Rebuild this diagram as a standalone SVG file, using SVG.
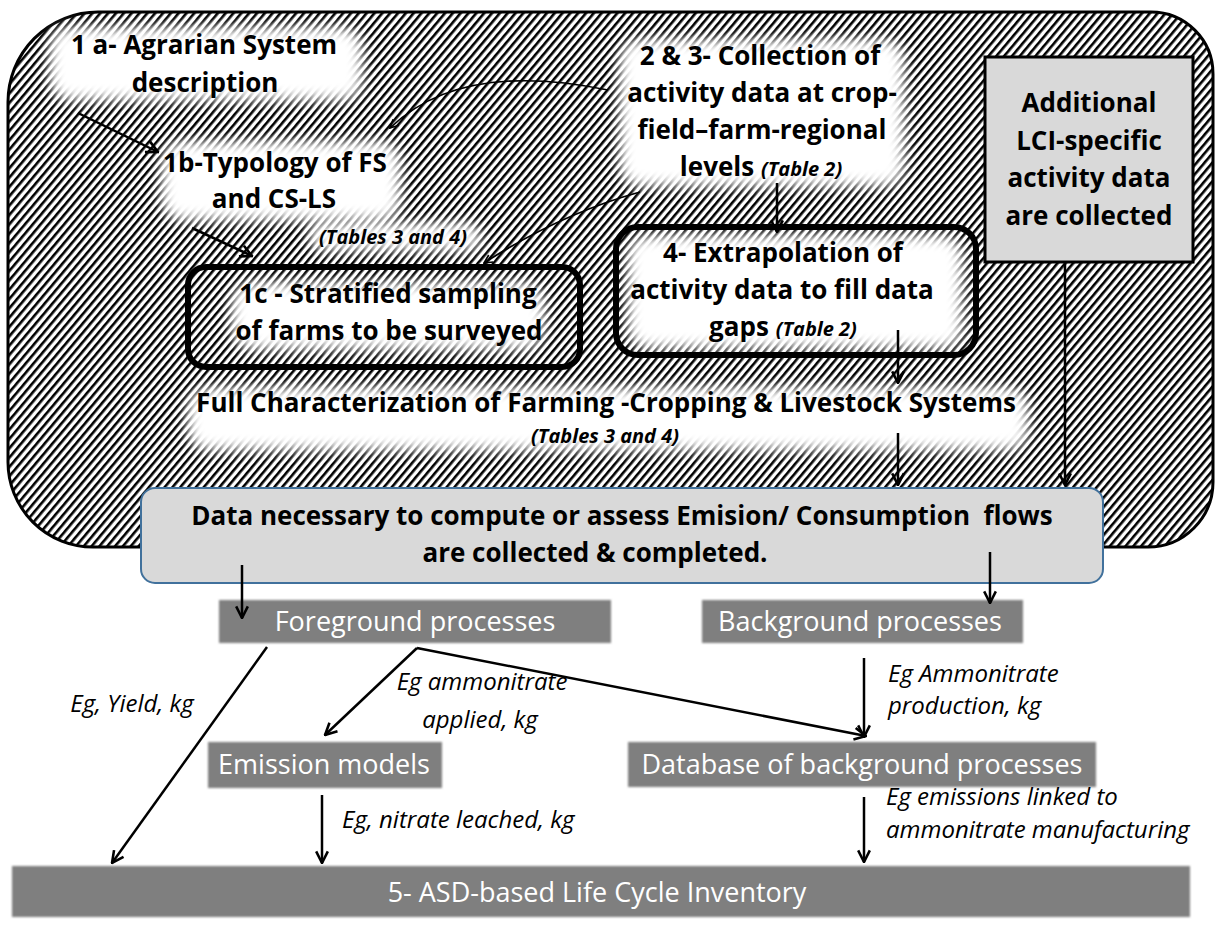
<svg xmlns="http://www.w3.org/2000/svg" width="1218" height="927" viewBox="0 0 1218 927">
<defs>
<pattern id="hatch" patternUnits="userSpaceOnUse" width="6" height="6" patternTransform="rotate(40)">
<rect width="6" height="6" fill="#fff"/>
<rect width="2.6" height="6" fill="#000"/>
</pattern>
<filter id="glow" x="-30%" y="-60%" width="160%" height="220%"><feGaussianBlur stdDeviation="7"/></filter>
<filter id="soft" x="-5%" y="-20%" width="110%" height="140%"><feGaussianBlur stdDeviation="1.2"/></filter>
<marker id="ah" viewBox="0 0 12 12" refX="11" refY="6" markerWidth="14" markerHeight="14" markerUnits="userSpaceOnUse" orient="auto"><path d="M1,1 L11,6 L1,11" fill="none" stroke="#000" stroke-width="2.2"/></marker>
<marker id="ahs" viewBox="0 0 12 12" refX="11" refY="6" markerWidth="10" markerHeight="10" markerUnits="userSpaceOnUse" orient="auto"><path d="M1,1 L11,6 L1,11" fill="none" stroke="#000" stroke-width="2"/></marker>
<style>
.b{font-family:"Open Sans","Liberation Sans",sans-serif;font-weight:700;font-size:26px;fill:#000;text-anchor:middle}
.t{font-family:"Open Sans","Liberation Sans",sans-serif;font-weight:700;font-style:italic;font-size:20px;fill:#000}
.w{font-family:"Open Sans","Liberation Sans",sans-serif;font-size:27px;fill:#fff;text-anchor:middle}
.i{font-family:"Open Sans","Liberation Sans",sans-serif;font-style:italic;font-size:24px;fill:#000}
.g{fill:#fff;filter:url(#glow)}
.gb{fill:#7f7f7f}
.c{fill:none;stroke:#000;stroke-width:2.5;marker-end:url(#ah)}
</style>
</defs>
<rect width="1218" height="927" fill="#fff"/>
<g id="region">
<path d="M98,12 H1151 A62,62 0 0 1 1213,74 V482 A65,65 0 0 1 1148,547 H93 A85,85 0 0 1 8,462 V102 A90,90 0 0 1 98,12 Z" fill="url(#hatch)" stroke="#000" stroke-width="3"/>
<rect class="g" x="50" y="28" width="312" height="72" rx="20"/>
<rect class="g" x="162" y="142" width="238" height="78" rx="20"/>
<rect class="g" x="310" y="224" width="170" height="26" rx="10"/>
<rect class="g" x="620" y="40" width="284" height="146" rx="20"/>
<rect class="g" x="232" y="283" width="312" height="66" rx="20"/>
<rect class="g" x="628" y="236" width="334" height="112" rx="20"/>
<rect class="g" x="188" y="388" width="840" height="62" rx="20"/>
</g>
<g id="n1a">
<text class="b" x="204" y="54">1 a- Agrarian System</text>
<text class="b" x="205" y="92">description</text>
</g>
<g id="n1b">
<text class="b" x="275" y="172">1b-Typology of FS</text>
<text class="b" x="274" y="208">and CS-LS</text>
<text class="t" x="393" y="244" text-anchor="middle">(Tables 3 and 4)</text>
</g>
<g id="n23">
<text class="b" x="760" y="65">2 &amp; 3- Collection of</text>
<text class="b" x="762" y="102">activity data at crop-</text>
<text class="b" x="762" y="139">field–farm-regional</text>
<text class="b" x="761" y="176">levels <tspan class="t">(Table 2)</tspan></text>
</g>
<g id="nadd">
<rect x="985" y="57" width="208" height="205" fill="#d9d9d9" stroke="#000" stroke-width="3"/>
<text class="b" x="1089" y="112">Additional</text>
<text class="b" x="1089" y="150">LCI-specific</text>
<text class="b" x="1089" y="187">activity data</text>
<text class="b" x="1089" y="225">are collected</text>
</g>
<g id="n1c">
<rect x="188" y="267" width="392" height="100" rx="18" fill="none" stroke="#000" stroke-width="6"/>
<text class="b" x="388" y="303">1c - Stratified sampling</text>
<text class="b" x="389" y="340">of farms to be surveyed</text>
</g>
<g id="n4">
<rect x="616" y="227" width="360" height="128" rx="22" fill="none" stroke="#000" stroke-width="6"/>
<text class="b" x="783" y="262">4- Extrapolation of</text>
<text class="b" x="782" y="299">activity data to fill data</text>
<text class="b" x="783" y="336">gaps <tspan class="t">(Table 2)</tspan></text>
</g>
<g id="nfull">
<text class="b" x="606" y="412">Full Characterization of Farming -Cropping &amp; Livestock Systems</text>
<text class="t" x="605" y="443" text-anchor="middle">(Tables 3 and 4)</text>
</g>
<g id="ndata">
<rect x="141" y="488" width="962" height="95" rx="14" fill="#d9d9d9" stroke="#41719c" stroke-width="2"/>
<text class="b" x="622" y="525" xml:space="preserve">Data necessary to compute or assess Emision/ Consumption  flows</text>
<text class="b" x="595" y="562">are collected &amp; completed.</text>
</g>
<g id="nfore">
<rect class="gb" x="219" y="600" width="392" height="43" filter="url(#soft)"/>
<text class="w" x="415" y="631">Foreground processes</text>
</g>
<g id="nback">
<rect class="gb" x="702" y="600" width="321" height="43" filter="url(#soft)"/>
<text class="w" x="860" y="631">Background processes</text>
</g>
<g id="nemis">
<rect class="gb" x="208" y="742" width="234" height="46" filter="url(#soft)"/>
<text class="w" x="324" y="774">Emission models</text>
</g>
<g id="ndb">
<rect class="gb" x="628" y="742" width="468" height="45" filter="url(#soft)"/>
<text class="w" x="862" y="774">Database of background processes</text>
</g>
<g id="nlci">
<rect class="gb" x="12" y="866" width="1178" height="51" filter="url(#soft)"/>
<text class="w" x="597" y="902">5- ASD-based Life Cycle Inventory</text>
</g>
<g id="labels">
<text class="i" x="132" y="712" text-anchor="middle">Eg, Yield, kg</text>
<text class="i" x="482" y="690" text-anchor="middle">Eg ammonitrate</text>
<text class="i" x="480" y="728" text-anchor="middle">applied, kg</text>
<text class="i" x="888" y="682">Eg Ammonitrate</text>
<text class="i" x="888" y="714">production, kg</text>
<text class="i" x="342" y="828">Eg, nitrate leached, kg</text>
<text class="i" x="886" y="805">Eg emissions linked to</text>
<text class="i" x="886" y="838">ammonitrate manufacturing</text>
</g>
<g id="connectors">
<path class="c" d="M78,113 L158,152"/>
<path d="M608,90 C540,76 450,70 390,128" fill="none" stroke="#000" stroke-width="1.6" marker-end="url(#ahs)"/>
<path d="M640,192 Q560,214 484,263" fill="none" stroke="#000" stroke-width="1.8" marker-end="url(#ahs)"/>
<path class="c" d="M192,228 L252,256"/>
<path class="c" d="M777,183 V232"/>
<path class="c" d="M898,330 V383"/>
<path class="c" d="M898,433 V485"/>
<path class="c" d="M1065,262 V485"/>
<path class="c" d="M242,565 V618"/>
<path class="c" d="M990,552 V603"/>
<path class="c" d="M267,647 L112,863"/>
<path class="c" d="M417,648 L325,735"/>
<path class="c" d="M417,648 L866,736"/>
<path class="c" d="M864,658 V737"/>
<path class="c" d="M322,795 V863"/>
<path class="c" d="M864,797 V862"/>
</g>
</svg>
